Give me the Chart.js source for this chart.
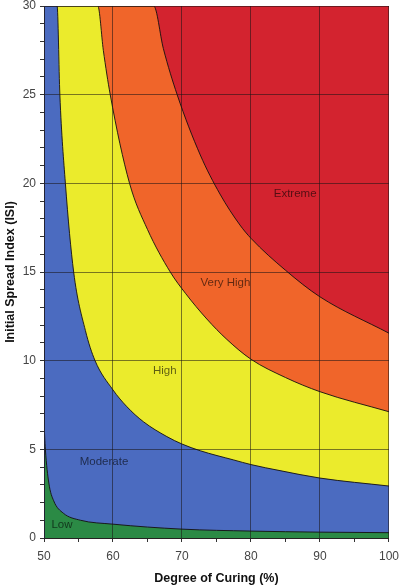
<!DOCTYPE html>
<html>
<head>
<meta charset="utf-8">
<script src="https://cdn.jsdelivr.net/npm/chart.js@4.4.1/dist/chart.umd.min.js"></script>
<style>
  body { margin: 0; background: #fff; }
  #wrap { width: 399px; height: 585px; }
</style>
</head>
<body>
<div id="wrap"><canvas id="myChart"></canvas></div>
<script>
// boundary curves (x = degree of curing, y = ISI)
const lowX = [50, 50.2, 50.7, 51.4, 52.8, 55.3, 60, 70, 80, 90, 100];
const lowY = [6.5, 5.0, 3.1, 2.1, 1.4, 1.0, 0.78, 0.5, 0.39, 0.33, 0.3];
const moderateX = [50, 51.9, 52.3, 53.1, 54.3, 56.0, 57.4, 60, 62, 64.4, 67.8, 70, 72.65, 77.5, 80, 84.2, 90, 100];
const moderateY = [30, 30, 25, 20, 15, 11.7, 10, 8.35, 7.41, 6.56, 5.72, 5.3, 4.92, 4.4, 4.14, 3.8, 3.38, 2.93];
const highX = [50, 57.8, 58.6, 59.6, 62.4, 65, 68.3, 70.5, 73.6, 76.5, 80, 85, 90, 100];
const highY = [30, 30, 27.5, 25, 20, 17.4, 15, 13.8, 12.35, 11.2, 10.08, 9.05, 8.25, 7.12];
const veryHighX = [50, 65.9, 67.3, 69.3, 72.65, 75.5, 78.4, 80, 85, 90, 100];
const veryHighY = [30, 30, 27.6, 25, 21.6, 19.4, 17.65, 16.9, 15.1, 13.6, 11.55];
const extremeX = [50, 100];
const extremeY = [30, 30];

const classNames = ["Low", "Moderate", "High", "Very High", "Extreme"];
const labelX = [52.6, 58.7, 67.5, 76.3, 86.4];
const labelY = [0.73, 4.3, 9.44, 14.4, 19.4];

const colors = ["#2b8a45", "#4b6bc0", "#ebeb2c", "#f0652a", "#d3232f"];

const toPoints = (xs, ys) => xs.map((x, i) => ({ x: x, y: ys[i] }));

const curves = [
  toPoints(lowX, lowY),
  toPoints(moderateX, moderateY),
  toPoints(highX, highY),
  toPoints(veryHighX, veryHighY),
  toPoints(extremeX, extremeY),
];

// first dataset is drawn on top, so low goes first and extreme last
const datasets = curves.map((pts, i) => ({
  data: pts,
  backgroundColor: colors[i],
  borderColor: i === 4 ? "rgba(0,0,0,0)" : "rgba(20,15,15,0.9)",
  borderWidth: i === 4 ? 0 : 1,
  fill: "origin",
  pointRadius: 0,
  cubicInterpolationMode: "monotone",
}));

const regionLabels = {
  id: "regionLabels",
  afterDraw(chart) {
    const c = chart.ctx;
    const xs = chart.scales.x;
    const ys = chart.scales.y;
    c.save();
    c.font = "11.5px 'Liberation Sans', Arial, sans-serif";
    c.fillStyle = "rgba(0,0,0,0.6)";
    c.textAlign = "center";
    c.textBaseline = "middle";
    classNames.forEach((name, i) => {
      c.fillText(name, xs.getPixelForValue(labelX[i]), ys.getPixelForValue(labelY[i]));
    });
    c.restore();
  },
};

// tall line height on x pushes the labels down without widening the right gap,
// short line height on y keeps the top gap small
const xTickFont = { family: "'Liberation Sans', Arial, sans-serif", size: 12, lineHeight: 2.45 };
const yTickFont = { family: "'Liberation Sans', Arial, sans-serif", size: 12, lineHeight: 0.34 };
const titleFont = { family: "'Liberation Sans', Arial, sans-serif", size: 12.5, weight: "bold", lineHeight: 1 };
const gridColor = "rgba(25,20,20,0.55)";

const ctx = document.getElementById("myChart").getContext("2d");
new Chart(ctx, {
  type: "line",
  data: { datasets: datasets },
  plugins: [regionLabels],
  options: {
    responsive: true,
    maintainAspectRatio: false,
    animation: false,
    layout: { padding: 0 },
    plugins: { legend: { display: false }, tooltip: { enabled: false } },
    scales: {
      x: {
        type: "linear",
        min: 50,
        max: 100,
        afterFit: (scale) => { scale.height = 47; },
        ticks: {
          stepSize: 5,
          autoSkip: false,
          maxRotation: 0,
          padding: 0,
          color: "#444",
          font: xTickFont,
          callback: (v) => (v % 10 === 0 ? v : ""),
        },
        grid: {
          z: 1,
          color: (c) => (c.tick && c.tick.value % 10 === 0 ? gridColor : "rgba(0,0,0,0)"),
          tickColor: "#333",
          tickLength: 4,
        },
        border: { display: true, color: "#333", width: 1, z: 1 },
        title: {
          display: true,
          text: "Degree of Curing (%)",
          color: "#111",
          font: titleFont,
          padding: { top: 0, bottom: 0 },
        },
      },
      y: {
        type: "linear",
        min: 0,
        max: 30,
        afterFit: (scale) => { scale.width = 44; },
        ticks: {
          stepSize: 1,
          autoSkip: false,
          padding: 4,
          color: "#444",
          font: yTickFont,
          callback: (v) => (v % 5 === 0 ? v : ""),
        },
        grid: {
          z: 1,
          color: (c) => (c.tick && c.tick.value % 5 === 0 ? gridColor : "rgba(0,0,0,0)"),
          tickColor: "#333",
          tickLength: 4,
        },
        border: { display: true, color: "#223", width: 1, z: 1 },
        title: {
          display: true,
          text: "Initial Spread Index (ISI)",
          color: "#111",
          font: titleFont,
          padding: { top: 4, bottom: 0 },
        },
      },
    },
  },
});
</script>
</body>
</html>
